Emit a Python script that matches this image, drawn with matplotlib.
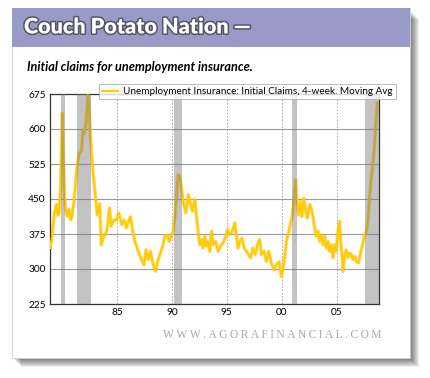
import matplotlib.pyplot as plt
import matplotlib.patheffects as pe
from matplotlib.patches import Rectangle

# weekly claims, 4-week moving average (thousands)
years = [1978.92, 1979.1, 1979.3, 1979.48, 1979.6, 1979.72, 1979.85, 1980.02, 1980.1,
         1980.23, 1980.35, 1980.48, 1980.6, 1980.69, 1980.8, 1980.9, 1981.08, 1981.25,
         1981.38, 1981.5, 1981.6, 1981.75, 1981.9, 1982.05, 1982.2, 1982.35, 1982.45,
         1982.57, 1982.75, 1982.96, 1983.2, 1983.42, 1983.57, 1983.72, 1983.93, 1984.1,
         1984.32, 1984.47, 1984.72, 1984.96, 1985.17, 1985.42, 1985.66, 1985.87, 1986.02,
         1986.23, 1986.38, 1986.63, 1986.93, 1987.23, 1987.45, 1987.63, 1987.84, 1988.05,
         1988.29, 1988.51, 1988.69, 1988.9, 1989.2, 1989.35, 1989.6, 1989.75, 1989.96,
         1990.11, 1990.26, 1990.42, 1990.57, 1990.72, 1990.87, 1991.02, 1991.26, 1991.48,
         1991.63, 1991.87, 1992.08, 1992.23, 1992.38, 1992.54, 1992.69, 1992.84, 1992.99,
         1993.14, 1993.29, 1993.45, 1993.6, 1993.75, 1993.99, 1994.2, 1994.42, 1994.66,
         1994.9, 1995.05, 1995.26, 1995.51, 1995.72, 1995.87, 1996.02, 1996.17, 1996.38,
         1996.57, 1996.78, 1996.99, 1997.17, 1997.38, 1997.6, 1997.78, 1997.99, 1998.14,
         1998.38, 1998.6, 1998.81, 1999.05, 1999.29, 1999.51, 1999.75, 1999.96, 2000.11,
         2000.26, 2000.42, 2000.57, 2000.78, 2000.96, 2001.11, 2001.26, 2001.35, 2001.54,
         2001.69, 2001.84, 2001.99, 2002.17, 2002.32, 2002.54, 2002.69, 2002.84, 2002.99,
         2003.14, 2003.29, 2003.45, 2003.6, 2003.75, 2003.9, 2004.05, 2004.2, 2004.35,
         2004.51, 2004.66, 2004.81, 2004.96, 2005.11, 2005.26, 2005.35, 2005.48, 2005.57,
         2005.72, 2005.87, 2006.02, 2006.17, 2006.32, 2006.48, 2006.63, 2006.78, 2006.99,
         2007.17, 2007.38, 2007.54, 2007.69, 2007.84, 2007.99, 2008.14, 2008.29, 2008.44,
         2008.54, 2008.6, 2008.69]
claims = [345, 372, 420, 438, 415, 420, 470, 634, 555,
          452, 425, 413, 428, 420, 405, 413, 445, 490,
          524, 540, 549, 552, 598, 590, 616, 673, 660,
          590, 524, 474, 416, 440, 352, 365, 374, 385,
          431, 392, 405, 405, 420, 395, 405, 388, 401,
          412, 388, 359, 338, 320, 309, 341, 320, 338,
          309, 295, 316, 331, 352, 370, 373, 359, 373,
          380, 409, 459, 502, 495, 474, 445, 420, 459,
          445, 424, 449, 416, 381, 352, 363, 345, 370,
          349, 359, 338, 381, 352, 359, 338, 349, 356,
          370, 384, 373, 381, 399, 373, 345, 359, 366,
          345, 338, 330, 324, 345, 331, 352, 363, 331,
          338, 316, 338, 313, 298, 309, 316, 284, 298,
          324, 359, 373, 395, 416, 452, 491, 452, 416,
          445, 413, 452, 424, 409, 438, 430, 413, 388,
          370, 381, 359, 373, 352, 370, 345, 359, 338,
          352, 324, 352, 338, 381, 402, 359, 331, 295,
          331, 341, 324, 334, 331, 320, 327, 316, 313,
          334, 356, 373, 381, 402, 452, 495, 524, 566,
          602, 624, 656]

recessions = [(1979.9, 1980.3), (1981.4, 1982.6), (1990.2, 1990.9),
              (2000.9, 2001.4), (2007.6, 2008.85)]
tick_years = [1985, 1990, 1995, 2000, 2005]
tick_labels = ['85', '90', '95', '00', '05']
y_ticks = [225, 300, 375, 450, 525, 600, 675]

W, H = 431, 378
fig = plt.figure(figsize=(W / 100, H / 100), dpi=100)
fig.patch.set_facecolor('white')

def box(x0, y0, x1, y1, **kw):
    # pixel coords from top-left
    r = Rectangle((x0 / W, 1 - y1 / H), (x1 - x0) / W, (y1 - y0) / H,
                  transform=fig.transFigure, **kw)
    fig.patches.append(r)

# drop shadow
for i in range(8):
    box(14 + i, 12 + i, 412 + i, 360 + i, facecolor='black', alpha=0.07,
        edgecolor='none', zorder=0)
box(12, 8, 410, 358, facecolor='white', edgecolor='#cccccc', lw=0.6, zorder=1)
box(12, 8, 410, 47, facecolor='#9a9ac9', edgecolor='none', zorder=2)

fig.text(24 / W, 1 - 27 / H, 'Couch Potato Nation —', color='white',
         fontsize=15.5, fontweight='heavy', family='Lato', va='center',
         path_effects=[pe.withStroke(linewidth=2.2, foreground='#555566')])
fig.text(27 / W, 1 - 67 / H, 'Initial claims for unemployment insurance.',
         fontsize=9.1, fontweight='bold', style='italic', family='Lato',
         va='center')
fig.text(382 / W, 1 - 335 / H, 'W W W . A G O R A F I N A N C I A L . C O M'.replace(' ', '\u2009'),
         fontsize=8.4, family='Liberation Serif', color='#aaaaaa', ha='right',
         va='center')

ax = fig.add_axes([50 / W, 1 - 304 / H, (379 - 50) / W, (304 - 94) / H])
ax.set_zorder(5)
ax.set_facecolor('white')
for x0, x1 in recessions:
    ax.axvspan(x0, x1, color='#7a7a7a', alpha=0.45, lw=0, zorder=4)
ax.plot(years, claims, color='#ffb300', lw=2.6, alpha=0.45, zorder=2)
ax.plot(years, claims, color='#ffcc00', lw=1.5, zorder=3,
        label='Unemployment Insurance: Initial Claims, 4-week. Moving Avg')

ax.set_xlim(1978.9, 2008.85)
ax.set_ylim(225, 675)
ax.set_yticks(y_ticks)
ax.set_xticks(tick_years)
ax.set_xticklabels(tick_labels)
ax.yaxis.grid(True, color='#9a9a9a', lw=0.8)
ax.xaxis.grid(True, color='#9a9a9a', lw=0.6, ls=(0, (2, 2)))
ax.set_axisbelow(True)
ax.tick_params(length=0, labelsize=7.3, pad=3)
for lab in ax.get_xticklabels() + ax.get_yticklabels():
    lab.set_family('Lato')
for s in ax.spines.values():
    s.set_color('#333333')
    s.set_linewidth(0.9)

leg = ax.legend(loc='upper left', bbox_to_anchor=(99 / W, 1 - 84 / H),
                bbox_transform=fig.transFigure, prop={'family': 'Lato', 'size': 7.2},
                frameon=True, fancybox=False, borderpad=0.3, handlelength=1.6,
                handletextpad=0.5, borderaxespad=0)
leg.get_frame().set_edgecolor('#aaaaaa')
leg.get_frame().set_linewidth(0.7)
leg.set_zorder(10)

fig.savefig('out.png', dpi=100)
